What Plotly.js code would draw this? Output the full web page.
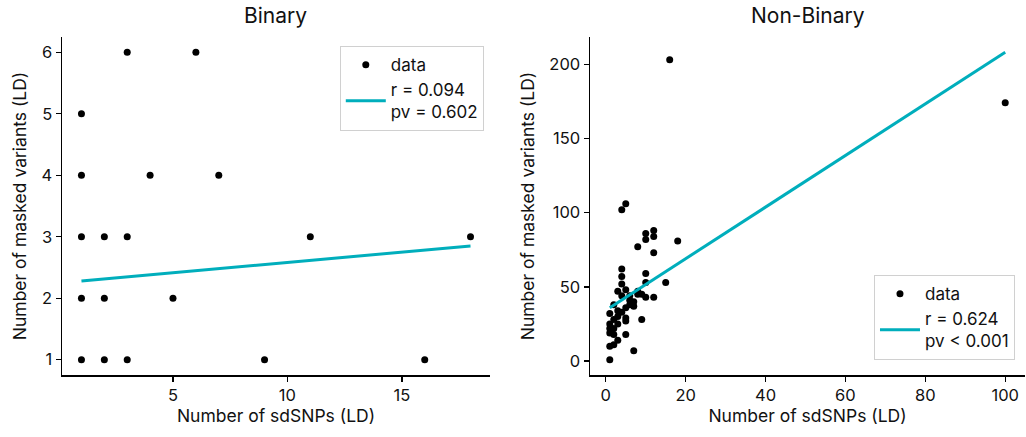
<!DOCTYPE html>
<html>
<head>
<meta charset="utf-8">
<script src="https://cdn.plot.ly/plotly-3.0.1.min.js"></script>
<style>html,body{margin:0;padding:0;background:#fff;}#chart{width:1026px;height:437px;}</style>
</head>
<body>
<div id="chart"></div>
<script>
// Binary panel
const binX = [3, 6, 1, 1, 4, 7, 1, 2, 3, 11, 18, 1, 2, 5, 1, 2, 3, 9, 16];
const binY = [6, 6, 5, 4, 4, 4, 3, 3, 3, 3, 3, 2, 2, 2, 1, 1, 1, 1, 1];
const binFitX = [1, 18];
const binFitY = [2.28, 2.85];
const binLabel = "r = 0.094<br>pv = 0.602";

// Non-Binary panel
const nbX = [1, 1, 2, 1, 2, 3, 5, 1, 2, 5, 5, 9, 1, 3, 4, 1, 2, 3, 7, 7, 6, 4, 3, 5, 4, 4, 4, 6, 7, 8, 9, 10, 12, 10, 15, 10, 4, 5, 8, 12, 10, 10, 12, 12, 18, 16, 100, 2, 3, 5, 6, 8];
const nbY = [1, 10, 11, 19, 18, 14, 18, 25, 28, 29, 27, 28, 32, 34, 33, 22, 22, 25, 7, 37, 41, 44, 47, 48, 52, 57, 62, 44, 40, 47, 45, 43, 43, 53, 53, 59, 102, 106, 77, 73, 82, 86, 84, 88, 81, 203, 174, 38, 30, 36, 38, 45];
const nbFitX = [1, 100];
const nbFitY = [36, 208];
const nbLabel = "r = 0.624<br>pv < 0.001";

const xTitle = "Number of sdSNPs (LD)";
const yTitle = "Number of masked variants (LD)";
const titles = ["Binary", "Non-Binary"];

const FONT = "Inter, 'DejaVu Sans', sans-serif";
const TEAL = "#00aebc";

const traces = [
  {x: binX, y: binY, type: "scatter", mode: "markers", name: "data",
   marker: {color: "black", size: 7}, xaxis: "x", yaxis: "y", legend: "legend"},
  {x: binFitX, y: binFitY, type: "scatter", mode: "lines", name: binLabel,
   line: {color: TEAL, width: 3}, xaxis: "x", yaxis: "y", legend: "legend"},
  {x: nbX, y: nbY, type: "scatter", mode: "markers", name: "data",
   marker: {color: "black", size: 7}, xaxis: "x2", yaxis: "y2", legend: "legend2"},
  {x: nbFitX, y: nbFitY, type: "scatter", mode: "lines", name: nbLabel,
   line: {color: TEAL, width: 3}, xaxis: "x2", yaxis: "y2", legend: "legend2"}
];

const axisCommon = {
  showgrid: false, zeroline: false, showline: true, linecolor: "black", linewidth: 1.5,
  ticks: "outside", ticklen: 5, tickwidth: 1.3, tickcolor: "black",
  tickfont: {family: FONT, size: 16.5, color: "#111"}, mirror: false
};

const legendCommon = {
  bgcolor: "rgba(255,255,255,0.9)", bordercolor: "#d0d0d0", borderwidth: 1,
  font: {family: FONT, size: 17, color: "#111"}, tracegroupgap: 2, itemwidth: 40
};

const layout = {
  width: 1026, height: 437,
  margin: {l: 62, r: 1, t: 37, b: 62},
  paper_bgcolor: "white", plot_bgcolor: "white",
  font: {family: FONT, color: "#111"},
  xaxis: Object.assign({}, axisCommon, {domain: [0, 0.4444], range: [0.15, 18.85],
    tickvals: [5, 10, 15], anchor: "y",
    title: {text: xTitle, font: {family: FONT, size: 17.5}, standoff: 4}}),
  yaxis: Object.assign({}, axisCommon, {range: [0.75, 6.25], tickvals: [1, 2, 3, 4, 5, 6], anchor: "x",
    title: {text: yTitle, font: {family: FONT, size: 17.5}, standoff: 10}}),
  xaxis2: Object.assign({}, axisCommon, {domain: [0.5483, 1.0], range: [-3.95, 104.95],
    tickvals: [0, 20, 40, 60, 80, 100], anchor: "y2",
    title: {text: xTitle, font: {family: FONT, size: 17.5}, standoff: 4}}),
  yaxis2: Object.assign({}, axisCommon, {range: [-9.35, 218.35], tickvals: [0, 50, 100, 150, 200], anchor: "x2",
    title: {text: yTitle, font: {family: FONT, size: 17.5}, standoff: 10}}),
  legend: Object.assign({}, legendCommon, {x: 0.438, xanchor: "right", y: 0.973, yanchor: "top",
    xref: "paper", yref: "paper"}),
  legend2: Object.assign({}, legendCommon, {x: 0.9896, xanchor: "right", y: 0.044, yanchor: "bottom",
    xref: "paper", yref: "paper"}),
  showlegend: true,
  annotations: [
    {text: titles[0], xref: "x domain", yref: "paper", x: 0.5, y: 1, yshift: 7, yanchor: "bottom",
     showarrow: false, font: {family: FONT, size: 21, color: "#111"}, xanchor: "center"},
    {text: titles[1], xref: "x2 domain", yref: "paper", x: 0.5, y: 1, yshift: 7, yanchor: "bottom",
     showarrow: false, font: {family: FONT, size: 21, color: "#111"}, xanchor: "center"}
  ]
};

Plotly.newPlot("chart", traces, layout, {displayModeBar: false, staticPlot: true});
</script>
</body>
</html>
